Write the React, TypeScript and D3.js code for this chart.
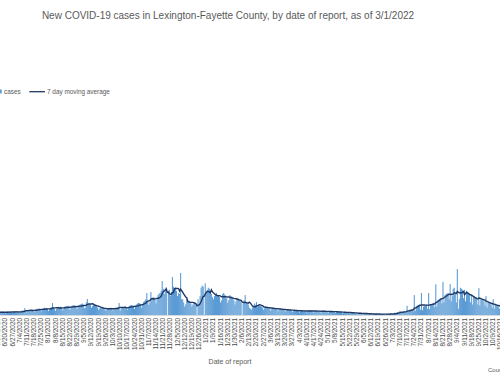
import React from "react";
import * as d3 from "d3";

// Daily reported cases, starting 6/1/2020
const startDate = new Date(2020, 5, 1);

const jun2020 = [22,30,28,35,27,24,15, 20,31,29,26,33,25,14, 24,30,27,34,29,22,16, 25,33,31,36,30,27,18, 26,34];
const jul2020 = [35,38,30,20,18,32,40, 44,42,66,38,25,40,45, 50,48,52,44,30,42,55, 58,60,62,50,35,48,62, 70,65,68];
const aug2020 = [55,38,52,68,72,114,70, 60,40,58,72,78,75,80, 65,45,62,80,85,82,88, 70,48,70,88,92,95,90, 75,55,78];
const sep2020 = [95,100,105,110,90,65,70, 120,152,115,112,95,70,85, 100,98,90,88,72,50,62, 70,75,68,66,55,40,52, 65,68];
const oct2020 = [66,70,55,40,55,68,72, 70,75,114,42,58,70,74, 78,82,70,50,68,88,92, 95,90,80,58,80,100,110, 115,112,95];
const nov2020 = [70,100,125,135,150,209,130, 95,120,218,160,165,170,150, 110,150,190,205,210,230,323, 250,200,250,265,0,230,240, 180,220];
const dec2020 = [361,270,250,260,230,180,210, 200,400,150,150,120,80,100, 150,140,135,130,110,80,100, 120,115,95,0,150,100,180, 260,280,270];
const jan2021 = [0,300,220,240,260,250,210, 200,170,150,180,200,210,190, 185,170,120,140,200,210,195, 185,160,115,140,190,180,175, 165,140,100];
const feb2021 = [130,165,160,150,145,120,0, 110,140,190,125,120,100,70, 60,50,70,90,110,95,124, 75,95,90,85,80,70,50];
const mar2021 = [65,80,78,75,72,60,40, 58,70,68,66,64,52,35, 50,62,60,58,56,46,32, 45,55,54,52,50,42,30, 40,48,47];
const apr2021 = [46,44,38,25,36,45,44, 42,43,36,24,35,44,45, 43,42,35,22,34,42,43, 40,41,33,21,32,40,41, 38,38];
const may2021 = [30,20,30,38,37,36,35, 28,18,27,34,33,32,30, 24,15,23,30,28,27,26, 20,12,20,25,24,22,21, 15,9,6];
const jun2021 = [22,20,19,18,12,7,12, 15,14,13,12,9,5,9, 12,11,10,10,7,4,8, 11,10,10,9,6,4,8, 11,12];
const jul2021 = [12,14,8,5,6,22,20, 24,28,18,40,25,30,28, 32,34,22,88,30,45,48, 50,52,35,190,40,85,90, 95,100,50];
const aug2021 = [209,45,80,85,88,92,60, 209,55,95,100,105,110,75, 292,80,140,150,155,160,110, 316,120,190,200,205,210,150, 295,130,180];
const sep2021 = [250,260,200,120,437,60,150, 260,250,240,160,240,130,230, 220,210,190,120,200,100,180, 175,170,150,100,256,90,150, 145,140];
const oct2021 = [130,90,180,70,120,115,110, 100,70,150,60,95,90,85, 80,60,120,55,80,78];

const dailyCases = [
  jun2020, jul2020, aug2020, sep2020, oct2020, nov2020, dec2020,
  jan2021, feb2021, mar2021, apr2021, may2021, jun2021, jul2021, aug2021, sep2021, oct2021,
].flat();

const chartTitle = "New COVID-19 cases in Lexington-Fayette County, by date of report, as of 3/1/2022";
const seriesNames = ["cases", "7 day moving average"];
const xAxisTitle = "Date of report";
const sourceNote = "Courtesy of LFCHD";

export default function App() {
  const W = 500;
  const H = 377;
  const baseY = 315;
  const font = "'Liberation Sans', Arial, sans-serif";
  const grey = "#595959";

  // day index 33 = 7/4/2020, 460 = 9/4/2021
  const x = d3.scaleLinear().domain([33, 460]).range([18.7, 456.3]);
  const y = d3.scaleLinear().domain([0, 2000]).range([baseY, 105]);
  const step = x(1) - x(0);
  const fmt = d3.timeFormat("%-m/%-d/%Y");

  const bars = dailyCases.map((v, i) => ({ i, v }));
  const ma = bars.slice(6).map((d) => ({
    i: d.i,
    v: d3.mean(dailyCases.slice(d.i - 6, d.i + 1)) as number,
  }));
  const line = d3
    .line<{ i: number; v: number }>()
    .x((d) => x(d.i))
    .y((d) => y(d.v));
  const ticks = d3.range(5, dailyCases.length, 7);

  return (
    <svg
      width={W}
      height={H}
      style={{ position: "absolute", left: 0, top: 0, background: "#fff" }}
      fontFamily={font}
    >
      <text x={228} y={19} textAnchor="middle" fontSize={10} fill={grey}>
        {chartTitle}
      </text>

      {/* legend */}
      <rect x={-2.3} y={89.5} width={4} height={4} fill="#5B9BD5" />
      <text x={4} y={93.8} fontSize={6.4} fill={grey}>{seriesNames[0]}</text>
      <line x1={29.3} x2={45} y1={91.7} y2={91.7} stroke="#203864" strokeWidth={1.3} />
      <text x={47} y={93.8} fontSize={6.4} fill={grey}>{seriesNames[1]}</text>

      {/* bars */}
      <g fill="#5B9BD5">
        {bars.map((d) => (
          <rect
            key={d.i}
            x={x(d.i) - (step * 1.05) / 2}
            y={y(d.v)}
            width={step * 1.05}
            height={baseY - y(d.v)}
          />
        ))}
      </g>

      {/* axis line */}
      <line x1={0} x2={W} y1={baseY + 0.5} y2={baseY + 0.5} stroke="#D9D9D9" strokeWidth={1} />

      {/* moving average */}
      <path d={line(ma) || ""} fill="none" stroke="#203864" strokeWidth={1.4} />

      {/* tick labels */}
      {ticks.map((i) => (
        <text
          key={i}
          transform={`translate(${x(i) + 0.8},318) rotate(-90)`}
          textAnchor="end"
          dy="0.35em"
          fontSize={6.4}
          fill="#4a4a4a"
        >
          {fmt(d3.timeDay.offset(startDate, i))}
        </text>
      ))}

      <text x={230} y={364} textAnchor="middle" fontSize={7} fill={grey}>
        {xAxisTitle}
      </text>
      <text x={488} y={372} fontSize={6} fill={grey}>
        {sourceNote}
      </text>
    </svg>
  );
}
